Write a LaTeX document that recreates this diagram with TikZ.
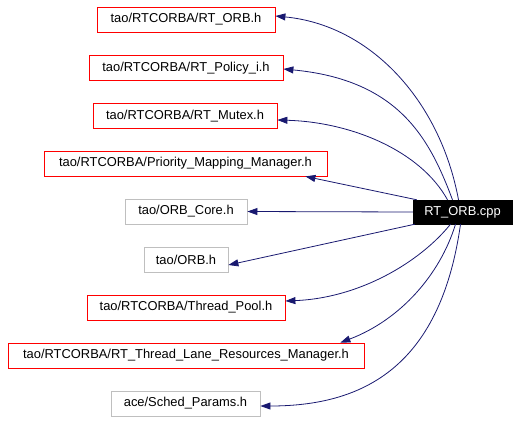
\documentclass[tikz,border=0pt]{standalone}
\usepackage{fontspec}
\setmainfont{Liberation Sans}
\usetikzlibrary{arrows.meta}
\definecolor{edgeblue}{HTML}{191970}
\definecolor{boxred}{HTML}{FF0000}
\definecolor{boxgray}{HTML}{BFBFBF}
\tikzset{
  hdr/.style={draw=boxred, line width=0.8pt, minimum height=25pt, inner sep=0pt, font=\fontsize{12.9}{14}\selectfont, text=black},
  ghdr/.style={hdr, draw=boxgray},
  main/.style={fill=black, draw=black, minimum height=24pt, inner sep=0pt, font=\fontsize{12.9}{14}\selectfont, text=white},
  edge/.style={draw=edgeblue, line width=0.8pt, -{Triangle[length=10pt,width=7pt]}}
}
\begin{document}
\begin{tikzpicture}[x=1pt,y=-1pt]
\useasboundingbox (0,0) rectangle (520,421);
\node[hdr, minimum width=178pt] (h1) at (186,19.5) {tao/RTCORBA/RT\_ORB.h};
\node[hdr, minimum width=194pt] (h2) at (186,68) {tao/RTCORBA/RT\_Policy\_i.h};
\node[hdr, minimum width=184pt] (h3) at (185,116) {tao/RTCORBA/RT\_Mutex.h};
\node[hdr, minimum width=283pt] (h4) at (185.5,163.5) {tao/RTCORBA/Priority\_Mapping\_Manager.h};
\node[ghdr, minimum width=122pt] (h5) at (186,211.5) {tao/ORB\_Core.h};
\node[ghdr, minimum width=84pt] (h6) at (186,259.5) {tao/ORB.h};
\node[hdr, minimum width=198pt] (h7) at (186,307.5) {tao/RTCORBA/Thread\_Pool.h};
\node[hdr, minimum width=356pt] (h8) at (186,355.5) {tao/RTCORBA/RT\_Thread\_Lane\_Resources\_Manager.h};
\node[ghdr, minimum width=149pt] (h9) at (185.5,403.5) {ace/Sched\_Params.h};
\node[main, minimum width=99pt] (cpp) at (462.5,212) {RT\_ORB.cpp};

\draw[edge] ([xshift=-4pt]cpp.north) .. controls (440,100) and (370,25) .. ([yshift=3.5pt]h1.east);
\draw[edge] ([xshift=-10pt]cpp.north) .. controls (430,140) and (400,80) .. ([yshift=-1pt]h2.east);
\draw[edge] ([xshift=-15pt]cpp.north) .. controls (420,150) and (350,122) .. ([yshift=-4pt]h3.east);
\draw[edge] ([xshift=4pt]cpp.north west) -- ([xshift=-22pt]h4.south east);
\draw[edge] (cpp.west) -- (h5.east);
\draw[edge] ([xshift=2pt]cpp.south west) -- ([yshift=-5.5pt]h6.east);
\draw[edge] ([xshift=-12pt]cpp.south) .. controls (420,262) and (360,298) .. ([yshift=6.5pt]h7.east);
\draw[edge] ([xshift=-7pt]cpp.south) .. controls (440,275) and (400,320) .. ([xshift=-24pt]h8.north east);
\draw[edge] ([xshift=-2pt]cpp.south) .. controls (440,370) and (360,406) .. ([yshift=-2.5pt]h9.east);
\end{tikzpicture}
\end{document}
